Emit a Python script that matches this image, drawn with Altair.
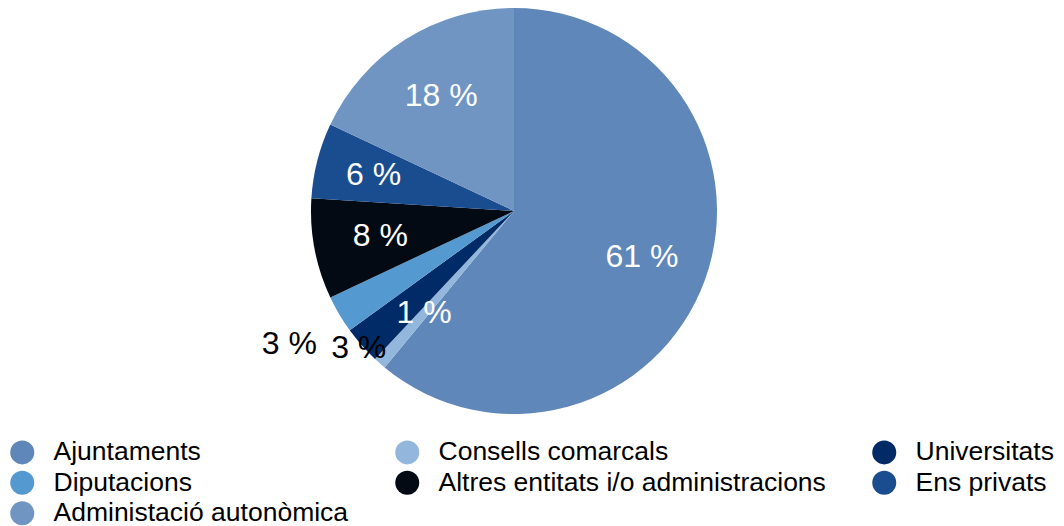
import altair as alt
import pandas as pd

categories = ["Ajuntaments", "Consells comarcals", "Universitats", "Diputacions",
              "Altres entitats i/o administracions", "Ens privats", "Administació autonòmica"]
values = [61, 1, 3, 3, 8, 6, 18]
colors = ["#5f87b9", "#93b7dc", "#002b66", "#5599d1", "#030a14", "#1a4d90", "#7095c3"]

df = pd.DataFrame({"cat": categories, "val": values, "idx": list(range(len(categories)))})
df["label"] = df["val"].astype(str) + " %"

CX, CY, R = 506, 203, 203

arcs = alt.Chart(df).mark_arc(outerRadius=R, stroke=None).encode(
    theta=alt.Theta("val:Q", stack=True),
    order=alt.Order("idx:Q"),
    x=alt.value(CX), y=alt.value(CY),
    color=alt.Color("cat:N", scale=alt.Scale(domain=categories, range=colors),
                    legend=alt.Legend(title=None, orient="none", legendX=1, legendY=431,
                                      direction="horizontal", columns=3,
                                      symbolType="circle", symbolSize=576,
                                      symbolStrokeWidth=0,
                                      labelFont="Liberation Sans", labelFontSize=26.5,
                                      labelColor="#000000", labelOffset=18,
                                      columnPadding=45, rowPadding=3.5,
                                      labelLimit=600)),
)

outside = "(datum.cat == 'Universitats' || datum.cat == 'Diputacions')"

texts = alt.Chart(df).transform_window(
    cum="sum(val)", sort=[alt.SortField("idx")],
    frame=[None, 0],
).transform_calculate(
    mid="datum.cum - datum.val / 2",
    rad="datum.cat == 'Universitats' ? 207 : (datum.cat == 'Diputacions' ? 261 : (datum.cat == 'Ens privats' ? 145 : 136))",
).mark_text(font="Liberation Sans", fontSize=32, align="center", baseline="middle").encode(
    theta=alt.Theta("mid:Q", stack=None),
    x=alt.value(CX), y=alt.value(CY),
    radius=alt.Radius("rad:Q", scale=None),
    text="label:N",
    color=alt.condition(outside, alt.value("black"), alt.value("white")),
)

chart = alt.layer(arcs, texts).properties(
    width=1048, height=518, padding=0,
    autosize=alt.AutoSizeParams(type="none"),
).configure_view(stroke=None)

chart.save("out.html", embed_options={"renderer": "svg", "actions": False})
